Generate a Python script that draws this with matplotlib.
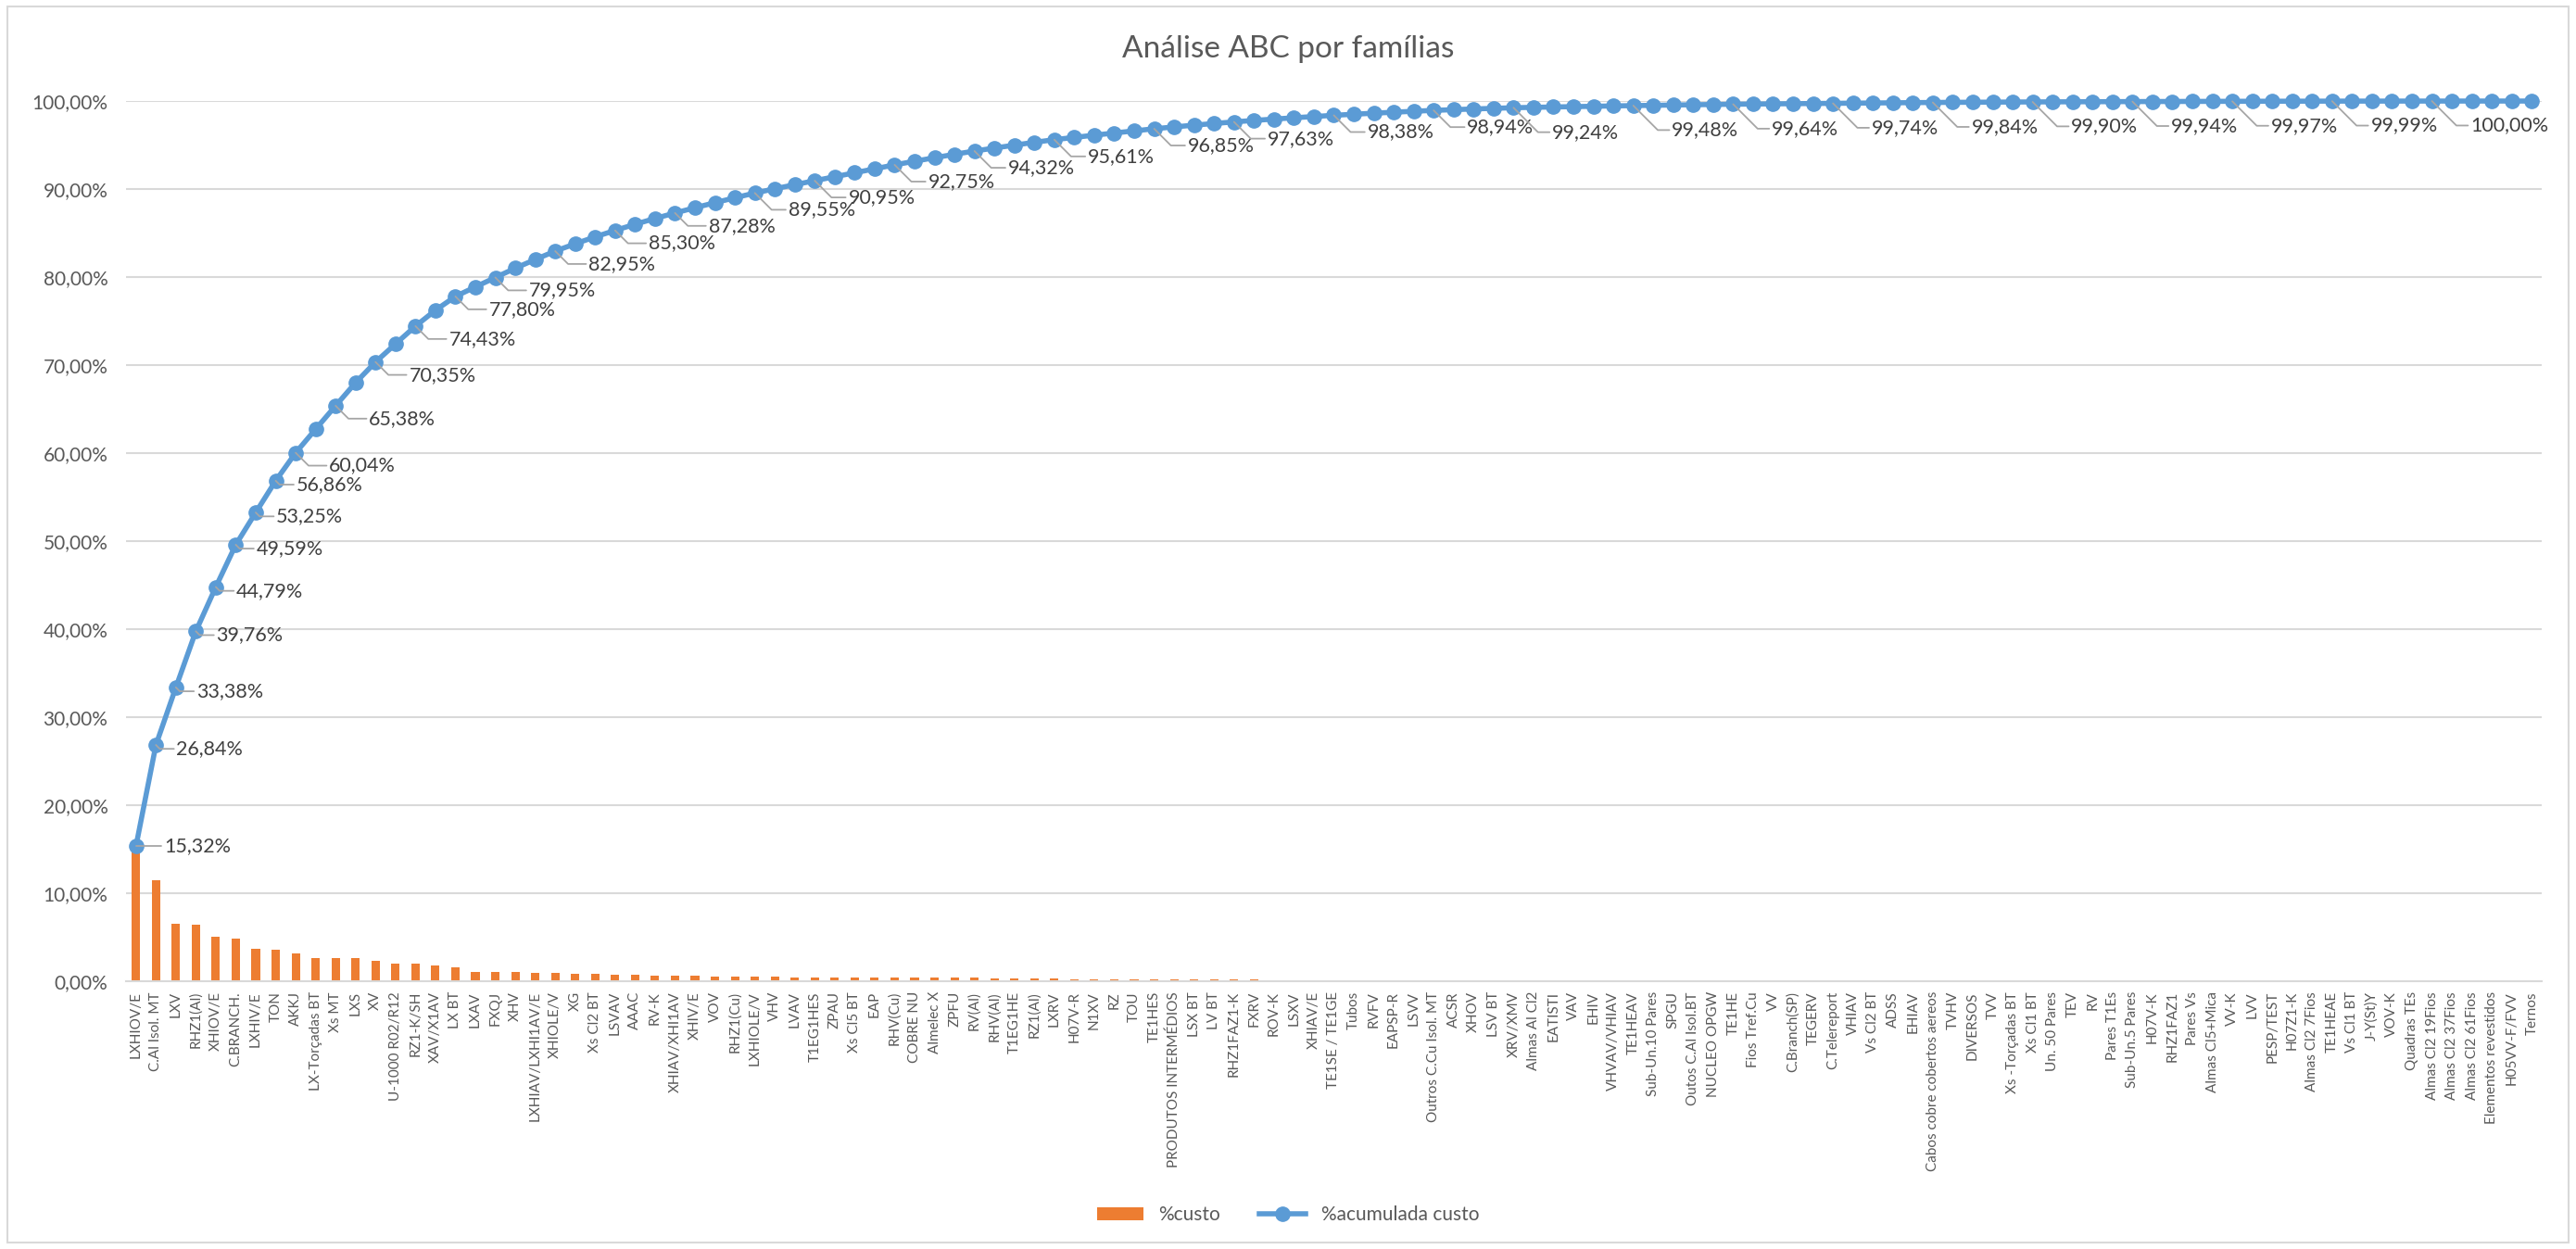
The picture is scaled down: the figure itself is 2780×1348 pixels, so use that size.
import numpy as np
import matplotlib.pyplot as plt
from matplotlib.patches import Rectangle
from matplotlib.ticker import FuncFormatter

plt.rcParams['font.family'] = ['Lato', 'DejaVu Sans']

familias = [
    "LXHIOV/E", "C.Al Isol. MT", "LXV", "RHZ1(Al)", "XHIOV/E", "C.BRANCH.", "LXHIV/E", "TON",
    "AKKJ", "LX-Torçadas BT", "Xs MT", "LXS", "XV", "U-1000 R02/R12", "RZ1-K/SH", "XAV/X1AV",
    "LX BT", "LXAV", "FXQJ", "XHV", "LXHIAV/LXHI1AV/E", "XHIOLE/V", "XG", "Xs Cl2 BT", "LSVAV",
    "AAAC", "RV-K", "XHIAV/XHI1AV", "XHIV/E", "VOV", "RHZ1(Cu)", "LXHIOLE/V", "VHV", "LVAV",
    "T1EG1HES", "ZPAU", "Xs Cl5 BT", "EAP", "RHV(Cu)", "COBRE NU", "Almelec X", "ZPFU", "RV(Al)",
    "RHV(Al)", "T1EG1HE", "RZ1(Al)", "LXRV", "H07V-R", "N1XV", "RZ", "TOU", "TE1HES",
    "PRODUTOS INTERMÉDIOS", "LSX BT", "LV BT", "RHZ1FAZ1-K", "FXRV", "ROV-K", "LSXV", "XHIAV/E",
    "TE1SE / TE1GE", "Tubos", "RVFV", "EAPSP-R", "LSVV", "Outros C.Cu Isol. MT", "ACSR", "XHOV",
    "LSV BT", "XRV/XMV", "Almas Al Cl2", "EATISTI", "VAV", "EHIV", "VHVAV/VHIAV", "TE1HEAV",
    "Sub-Un.10 Pares", "SPGU", "Outos C.Al Isol.BT", "NUCLEO OPGW", "TE1HE", "Fios Tref.Cu", "VV",
    "C.Branch(SP)", "TEGERV", "C.Telereport", "VHIAV", "Vs Cl2 BT", "ADSS", "EHIAV",
    "Cabos cobre cobertos aereos", "TVHV", "DIVERSOS", "TVV", "Xs -Torçadas BT", "Xs Cl1 BT",
    "Un. 50 Pares", "TEV", "RV", "Pares T1Es", "Sub-Un.5 Pares", "H07V-K", "RHZ1FAZ1", "Pares Vs",
    "Almas Cl5+Mica", "VV-K", "LVV", "PESP/TEST", "H07Z1-K", "Almas Cl2 7Fios", "TE1HEAE",
    "Vs Cl1 BT", "J-Y(St)Y", "VOV-K", "Quadras TEs", "Almas Cl2 19Fios", "Almas Cl2 37Fios",
    "Almas Cl2 61Fios", "Elementos revestidos", "H05VV-F/FVV", "Ternos",
]

# %custo por família (em %)
custo = [
    15.32, 11.52, 6.54, 6.38, 5.03, 4.80, 3.66, 3.61, 3.18,
    2.68, 2.66, 2.62, 2.35, 2.05, 2.03, 1.80, 1.57, 1.08, 1.07,
    1.06, 0.99, 0.95, 0.83, 0.79, 0.73, 0.70, 0.66, 0.62,
    0.60, 0.57, 0.56, 0.54, 0.48, 0.47, 0.45, 0.45, 0.45, 0.45, 0.45,
    0.41, 0.40, 0.39, 0.37, 0.34, 0.33, 0.32, 0.30,
    0.26, 0.25, 0.25, 0.24, 0.24, 0.21, 0.20, 0.19, 0.18,
    0.17, 0.15, 0.15, 0.14, 0.14, 0.12, 0.12, 0.11, 0.11, 0.10,
    0.08, 0.08, 0.07, 0.07,
    0.045, 0.04, 0.04, 0.04, 0.04, 0.035,
    0.035, 0.035, 0.03, 0.03, 0.03,
    0.02, 0.02, 0.02, 0.02, 0.02,
    0.02, 0.02, 0.02, 0.02, 0.02,
    0.012, 0.012, 0.012, 0.012, 0.012,
    0.008, 0.008, 0.008, 0.008, 0.008,
    0.006, 0.006, 0.006, 0.006, 0.006,
    0.004, 0.004, 0.004, 0.004, 0.004,
    0.0015, 0.0015, 0.0015, 0.0015, 0.0015,
    0.0005, 0.0005, 0.0005, 0.0005, 0.0005,
]

# pontos da curva acumulada com rótulo (posição 1 = primeira família)
rotulos = [1, 2, 3, 4, 5, 6, 7, 8, 9, 11, 13, 15, 17, 19, 22, 25, 28, 32, 35, 39,
           43, 47, 52, 56, 61, 66, 70, 76, 81, 86, 91, 96, 101, 106, 111, 116]

acumulada = np.cumsum(custo)
x = np.arange(len(familias))

fmt_pct = lambda v: f"{v:.2f}%".replace(".", ",")

fig = plt.figure(figsize=(27.8, 13.48), dpi=100)
ax = fig.add_axes([0.0489, 0.2144, 0.9378, 0.7047])

barras = ax.bar(x, custo, width=0.42, color="#ED7D31", zorder=2, label="%custo")
linha, = ax.plot(x, acumulada, color="#5B9BD5", lw=4, marker="o", ms=11, zorder=3,
                 clip_on=False, label="%acumulada custo")

for i in rotulos:
    k = i - 1
    if i == 1:
        dx, dy = 22, 0
    elif i < 9:
        dx, dy = 16, -3
    elif i < 32:
        dx, dy = 26, -10
    elif i < 70:
        dx, dy = 26, -13
    else:
        dx, dy = 30, -19
    ax.annotate(fmt_pct(acumulada[k]), xy=(x[k], acumulada[k]), xytext=(dx, dy),
                textcoords="offset points", ha="left", va="center",
                fontsize=15.5, color="#404040", zorder=4,
                arrowprops=dict(arrowstyle="-", color="#A6A6A6", lw=1.3,
                                connectionstyle="angle,angleA=0,angleB=-45,rad=0",
                                shrinkA=0, shrinkB=0, relpos=(0, 0.5)))

ax.set_xlim(-0.5, len(familias) - 0.5)
ax.set_ylim(0, 100)
ax.set_yticks(np.arange(0, 101, 10))
ax.yaxis.set_major_formatter(FuncFormatter(lambda v, p: fmt_pct(v)))
ax.set_xticks(x)
ax.set_xticklabels(familias, rotation=90, fontsize=11)
ax.tick_params(axis="y", length=0, labelsize=15, pad=14, labelcolor="#595959")
ax.tick_params(axis="x", length=0, pad=8, labelcolor="#595959")

ax.grid(axis="y", color="#D9D9D9", lw=1.5)
ax.set_axisbelow(True)
for side in ["top", "right", "left"]:
    ax.spines[side].set_visible(False)
ax.spines["bottom"].set_color("#D9D9D9")
ax.spines["bottom"].set_linewidth(1.5)

fig.text(0.5, 1 - 53 / 1348, "Análise ABC por famílias", ha="center", va="center",
         fontsize=24, color="#595959")

fig.legend([barras, linha], ["%custo", "%acumulada custo"], loc="lower center",
           bbox_to_anchor=(0.5, 0.006), ncol=2, frameon=False,
           fontsize=15, handlelength=2.4, columnspacing=2.0, labelcolor="#595959")

fig.add_artist(Rectangle((0.003, 0.005), 0.994, 0.99, transform=fig.transFigure,
                         fill=False, ec="#D9D9D9", lw=1.5))

fig.savefig("out.png", dpi=100, facecolor="white")
